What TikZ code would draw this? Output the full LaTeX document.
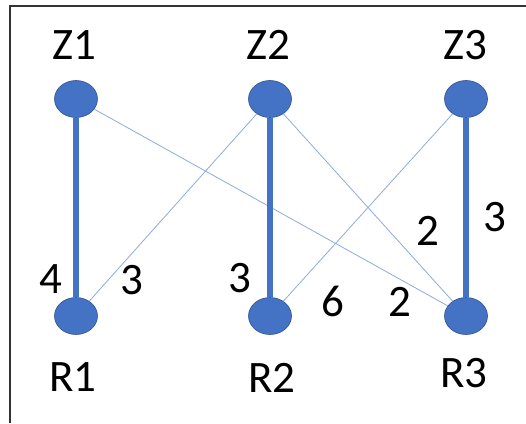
\documentclass[tikz,border=0pt]{standalone}
\usepackage{fontspec}
\setmainfont{Carlito}
\usetikzlibrary{shapes.geometric}

\definecolor{dotblue}{HTML}{4472C4}
\definecolor{dotrim}{HTML}{2F528F}
\definecolor{linkblue}{HTML}{8FAADC}

\begin{document}
\begin{tikzpicture}[x=1pt,y=-1pt,
  vertex/.style={ellipse,fill=dotblue,draw=dotrim,line width=0.6pt,minimum width=43pt,minimum height=37pt,inner sep=0pt},
  tag/.style={font=\fontsize{45}{48}\selectfont,inner sep=0pt},
  weight/.style={font=\fontsize{45}{48}\selectfont,inner sep=0pt},
  match/.style={dotblue,line width=6.5pt},
  link/.style={linkblue,line width=0.8pt}]
\useasboundingbox (0,0) rectangle (526,423);
\draw[black!80,line width=2pt] (10,423) -- (10,5.5) -- (526,5.5);

\node[vertex] (z1) at (76,99) {};
\node[vertex] (z2) at (270,99) {};
\node[vertex] (z3) at (466,99) {};
\node[vertex] (r1) at (76,316) {};
\node[vertex] (r2) at (270,316) {};
\node[vertex] (r3) at (466,316) {};

\node[tag] (lz1) at (74,45) {Z1};
\node[tag] (lz2) at (268,45) {Z2};
\node[tag] (lz3) at (465,45) {Z3};
\node[tag] (lr1) at (73,377) {R1};
\node[tag] (lr2) at (272,378) {R2};
\node[tag] (lr3) at (464,373) {R3};

\draw[link] (z1) -- (r3);
\draw[link] (z2) -- (r1);
\draw[link] (z2) -- (r3);
\draw[link] (z3) -- (r2);
\draw[match] (z1) -- (r1);
\draw[match] (z2) -- (r2);
\draw[match] (z3) -- (r3);

\node[weight] (w11) at (51,279) {4};
\node[weight] (w21) at (132,280) {3};
\node[weight] (w22) at (240,278) {3};
\node[weight] (w32) at (333,301) {6};
\node[weight] (w13) at (400,302) {2};
\node[weight] (w23) at (428,231) {2};
\node[weight] (w33) at (495,217) {3};
\end{tikzpicture}
\end{document}
